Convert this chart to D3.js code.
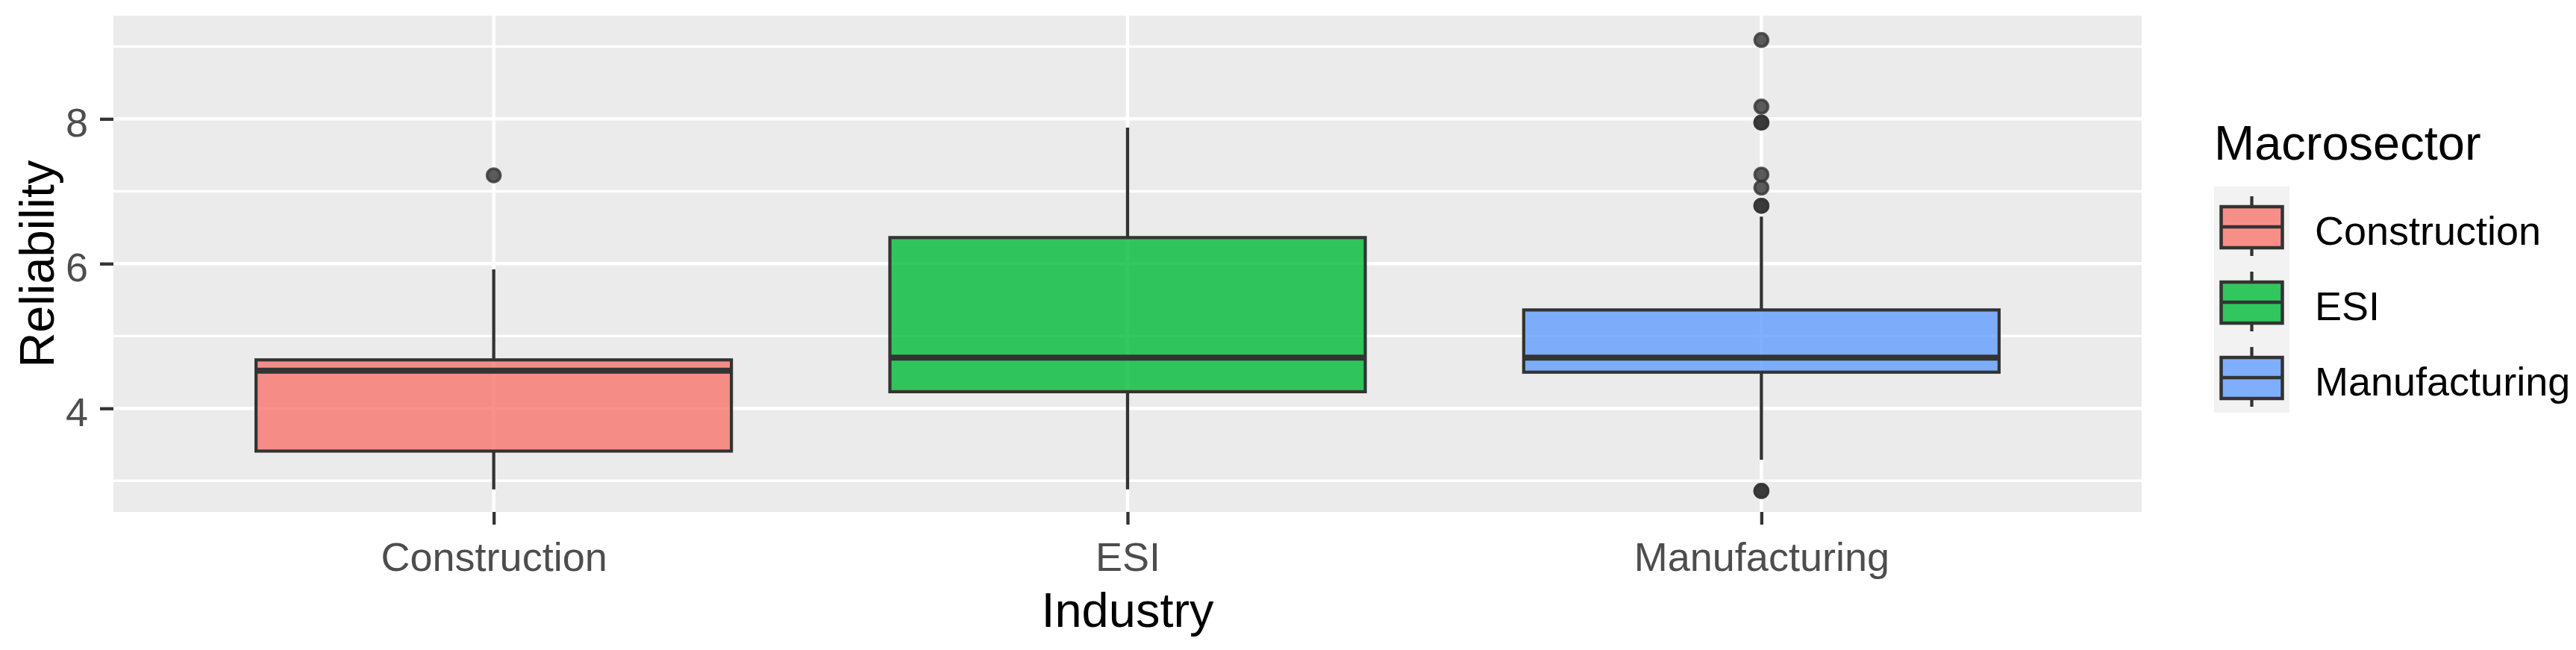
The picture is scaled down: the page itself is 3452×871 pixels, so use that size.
<!DOCTYPE html>
<html><head><meta charset="utf-8">
<script src="https://cdn.jsdelivr.net/npm/d3@7"></script>
<style>body{margin:0;background:#fff} text{font-family:"Liberation Sans",Arial,sans-serif}</style>
</head><body><svg id="c" width="3452" height="871"></svg>
<script>
// ---- data ----
const categories = ["Construction", "ESI", "Manufacturing"];
const lowerWhisker = [2.88, 2.88, 3.29];
const q1 = [3.41, 4.23, 4.50];
const median = [4.52, 4.70, 4.70];
const q3 = [4.67, 6.36, 5.36];
const upperWhisker = [5.92, 7.88, 6.65];
const outliersConstruction = [7.22];
const outliersESI = [];
const outliersManufacturing = [9.09, 8.17, 7.95, 7.95, 7.23, 7.05, 6.80, 6.80, 2.86, 2.86];
const fillColors = ["#F8766D", "#00BA38", "#619CFF"];
const yTicks = [4, 6, 8];
const yMinorTicks = [3, 5, 7, 9];
const yDomain = [2.569, 9.426];
const xTitle = "Industry", yTitle = "Reliability", legendTitle = "Macrosector";

// ---- layout ----
const svg = d3.select("#c");
svg.append("rect").attr("width", 3452).attr("height", 871).attr("fill", "#fff");
const P = {left: 152, right: 2870, top: 21, bottom: 686};

const x = d3.scalePoint().domain(categories).range([P.left, P.right]).padding(0.6);
const y = d3.scaleLinear().domain(yDomain).range([P.bottom, P.top]);
const bw = x.step() * 0.75;

svg.append("rect").attr("x", P.left).attr("y", P.top)
  .attr("width", P.right - P.left).attr("height", P.bottom - P.top).attr("fill", "#ebebeb");

// grid
svg.append("g").selectAll("line").data(yMinorTicks).join("line")
  .attr("x1", P.left).attr("x2", P.right).attr("y1", d => y(d)).attr("y2", d => y(d))
  .attr("stroke", "#fff").attr("stroke-width", 3.2);
svg.append("g").selectAll("line").data(yTicks).join("line")
  .attr("x1", P.left).attr("x2", P.right).attr("y1", d => y(d)).attr("y2", d => y(d))
  .attr("stroke", "#fff").attr("stroke-width", 4.4);
svg.append("g").selectAll("line").data(categories).join("line")
  .attr("y1", P.top).attr("y2", P.bottom).attr("x1", d => x(d)).attr("x2", d => x(d))
  .attr("stroke", "#fff").attr("stroke-width", 4.4);

// axes
const ya = svg.append("g").attr("transform", `translate(${P.left},0)`)
  .call(d3.axisLeft(y).tickValues(yTicks).tickSize(18).tickPadding(16).tickFormat(d3.format("d")));
ya.select(".domain").remove();
ya.selectAll("line").attr("stroke", "#333").attr("stroke-width", 4.3);
ya.selectAll("text").attr("dy", 23).attr("font-size", 54).attr("fill", "#4d4d4d")
  .attr("font-family", '"Liberation Sans",Arial,sans-serif');

const xa = svg.append("g").attr("transform", `translate(0,${P.bottom})`)
  .call(d3.axisBottom(x).tickSize(17));
xa.select(".domain").remove();
xa.selectAll("line").attr("stroke", "#333").attr("stroke-width", 4.3);
xa.selectAll("text").attr("y", 79).attr("dy", 0).attr("font-size", 54).attr("fill", "#4d4d4d")
  .attr("font-family", '"Liberation Sans",Arial,sans-serif');

// boxes
const outliers = [outliersConstruction, outliersESI, outliersManufacturing];
categories.forEach((c, i) => {
  const g = svg.append("g");
  const cx = x(c);
  g.append("line").attr("x1", cx).attr("x2", cx).attr("y1", y(upperWhisker[i])).attr("y2", y(q3[i]))
    .attr("stroke", "#333").attr("stroke-width", 4.3);
  g.append("line").attr("x1", cx).attr("x2", cx).attr("y1", y(q1[i])).attr("y2", y(lowerWhisker[i]))
    .attr("stroke", "#333").attr("stroke-width", 4.3);
  g.append("rect").attr("x", cx - bw / 2).attr("width", bw)
    .attr("y", y(q3[i])).attr("height", y(q1[i]) - y(q3[i]))
    .attr("fill", fillColors[i]).attr("fill-opacity", 0.8)
    .attr("stroke", "#333").attr("stroke-width", 4.2);
  g.append("line").attr("x1", cx - bw / 2).attr("x2", cx + bw / 2)
    .attr("y1", y(median[i])).attr("y2", y(median[i]))
    .attr("stroke", "#333").attr("stroke-width", 8);
  g.selectAll("circle").data(outliers[i]).join("circle")
    .attr("cx", cx).attr("cy", d => y(d)).attr("r", 9)
    .attr("fill", "#333").attr("fill-opacity", 0.8)
    .attr("stroke", "#333").attr("stroke-opacity", 0.8).attr("stroke-width", 3.5);
});

// titles
svg.append("text").attr("x", (P.left + P.right) / 2).attr("y", 840).attr("text-anchor", "middle")
  .attr("font-size", 65).attr("fill", "#000").text(xTitle);
svg.append("text").attr("transform", `translate(72,${(P.top + P.bottom) / 2}) rotate(-90)`)
  .attr("text-anchor", "middle").attr("font-size", 65).attr("fill", "#000").text(yTitle);

// legend
const L = {x: 2967, top: 250, kw: 101, kh: 101};
svg.append("text").attr("x", L.x).attr("y", 214).attr("font-size", 65).attr("fill", "#000").text(legendTitle);
categories.forEach((c, i) => {
  const kt = L.top + i * L.kh, kc = L.x + L.kw / 2;
  const g = svg.append("g");
  g.append("rect").attr("x", L.x).attr("y", kt).attr("width", L.kw).attr("height", L.kh).attr("fill", "#f2f2f2");
  g.append("line").attr("x1", kc).attr("x2", kc).attr("y1", kt + 13).attr("y2", kt + 27)
    .attr("stroke", "#333").attr("stroke-width", 4.3);
  g.append("line").attr("x1", kc).attr("x2", kc).attr("y1", kt + 82).attr("y2", kt + 93)
    .attr("stroke", "#333").attr("stroke-width", 4.3);
  g.append("rect").attr("x", kc - 41).attr("width", 82).attr("y", kt + 27).attr("height", 55)
    .attr("fill", fillColors[i]).attr("fill-opacity", 0.8).attr("stroke", "#333").attr("stroke-width", 4.5);
  g.append("line").attr("x1", kc - 41).attr("x2", kc + 41).attr("y1", kt + 54).attr("y2", kt + 54)
    .attr("stroke", "#333").attr("stroke-width", 4.5);
  g.append("text").attr("x", 3102).attr("y", kt + 78).attr("font-size", 54).attr("fill", "#000").text(c);
});
</script></body></html>
